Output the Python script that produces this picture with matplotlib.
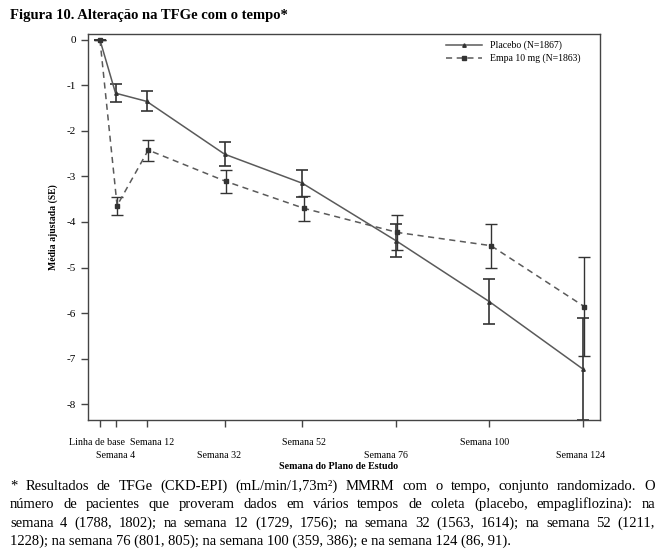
import matplotlib.pyplot as plt
from matplotlib.lines import Line2D

SERIF = "Liberation Serif"
LINE = "#5a5a5a"
BAR = "#333333"
FRAME = "#444444"

weeks = [0, 4, 12, 32, 52, 76, 100, 124]
tick_labels = ["Linha de base", "Semana 4", "Semana 12", "Semana 32",
               "Semana 52", "Semana 76", "Semana 100", "Semana 124"]

placebo_mean = [0, -1.17, -1.35, -2.51, -3.15, -4.41, -5.75, -7.23]
placebo_se = [0, 0.20, 0.22, 0.27, 0.30, 0.36, 0.50, 1.13]
empa_mean = [0, -3.64, -2.42, -3.11, -3.70, -4.23, -4.52, -5.86]
empa_se = [0, 0.20, 0.23, 0.26, 0.28, 0.38, 0.48, 1.09]

footnote = [
    "* Resultados de TFGe (CKD-EPI) (mL/min/1,73m²) MMRM com o tempo, conjunto randomizado. O",
    "número de pacientes que proveram dados em vários tempos de coleta (placebo, empagliflozina): na",
    "semana 4 (1788, 1802); na semana 12 (1729, 1756); na semana 32 (1563, 1614); na semana 52 (1211,",
    "1228); na semana 76 (801, 805); na semana 100 (359, 386); e na semana 124 (86, 91).",
]

# horizontal nudges (px) of the staggered tick labels, as in the original
label_shift = [-3, 0.5, 5, -6, 1, -10, -5, -2]
lower_row = [False, True, False, True, False, True, False, True]

W, H = 669, 551
fig = plt.figure(figsize=(W / 100, H / 100), dpi=100, facecolor="white")
ax = fig.add_axes([87.5 / W, 1 - 420 / H, (600 - 87.5) / W, (420 - 34) / H])

empa_x = [w + 0.4 if w > 0 else w for w in weeks]

ax.errorbar(weeks, placebo_mean, yerr=placebo_se, color=LINE, lw=1.1,
            marker="^", ms=2.5, mfc=BAR, mec=BAR,
            ecolor=BAR, elinewidth=1.2, capsize=4, capthick=1.2)
ax.errorbar(empa_x, empa_mean, yerr=empa_se, color=LINE, lw=1.1, ls=(0, (4, 3)),
            marker="s", ms=3, mfc=BAR, mec=BAR,
            ecolor=BAR, elinewidth=1.0, capsize=4, capthick=1.0)

ax.set_xlim(-3.2, 128.4)
ax.set_ylim(-8.35, 0.13)
ax.set_yticks(range(0, -9, -1))
ax.set_yticklabels([str(v) for v in range(0, -9, -1)], family=SERIF, fontsize=8)
ax.set_xticks(weeks)
ax.set_xticklabels([])
ax.tick_params(axis="both", direction="out", length=5, width=1, color=FRAME)
for sp in ax.spines.values():
    sp.set_color(FRAME)
    sp.set_linewidth(1)

for w, lab, dx, low in zip(weeks, tick_labels, label_shift, lower_row):
    ax.annotate(lab, xy=(w, 0), xycoords=("data", "axes fraction"),
                xytext=(dx * 0.72, -25.5 if low else -16), textcoords="offset points",
                ha="center", va="center", family=SERIF, fontsize=7.2)

ax.annotate("Semana do Plano de Estudo", xy=(0.49, 0), xycoords="axes fraction",
            xytext=(0, -33.5), textcoords="offset points",
            ha="center", va="center", family=SERIF, fontsize=7.2, fontweight="bold")
ax.set_ylabel("Média ajustada (SE)", family=SERIF, fontsize=7,
              fontweight="bold", labelpad=6)

handles = [
    Line2D([], [], color=LINE, lw=1.1, marker="^", ms=2.5, mfc=BAR, mec=BAR),
    Line2D([], [], color=LINE, lw=1.1, ls=(0, (4, 3)), marker="s", ms=3,
           mfc=BAR, mec=BAR),
]
ax.legend(handles, ["Placebo (N=1867)", "Empa 10 mg (N=1863)"],
          loc="upper left", bbox_to_anchor=((443 - 87.5) / (600 - 87.5), 0.99),
          frameon=False, prop={"family": SERIF, "size": 7}, handlelength=3.7,
          handletextpad=0.8, labelspacing=0.35, borderaxespad=0.0, borderpad=0.3)

fig.text(10 / W, 1 - 16 / H, "Figura 10. Alteração na TFGe com o tempo*",
         family=SERIF, fontsize=10.5, fontweight="bold", va="center")

# justified footnote
renderer = fig.canvas.get_renderer()
x0, x1 = 10, 655
size = 10.5
for k, line in enumerate(footnote):
    y = 1 - (490 + 18.3 * k) / H
    if k == len(footnote) - 1:
        fig.text(x0 / W, y, line, family=SERIF, fontsize=size, va="baseline")
        continue
    words = line.split()
    widths = []
    for wd in words:
        t = fig.text(0, 0, wd, family=SERIF, fontsize=size)
        widths.append(t.get_window_extent(renderer).width)
        t.remove()
    gap = (x1 - x0 - sum(widths)) / (len(words) - 1)
    xp = x0
    for wd, wdt in zip(words, widths):
        fig.text(xp / W, y, wd, family=SERIF, fontsize=size, va="baseline")
        xp += wdt + gap

fig.savefig("out.png", dpi=100)
